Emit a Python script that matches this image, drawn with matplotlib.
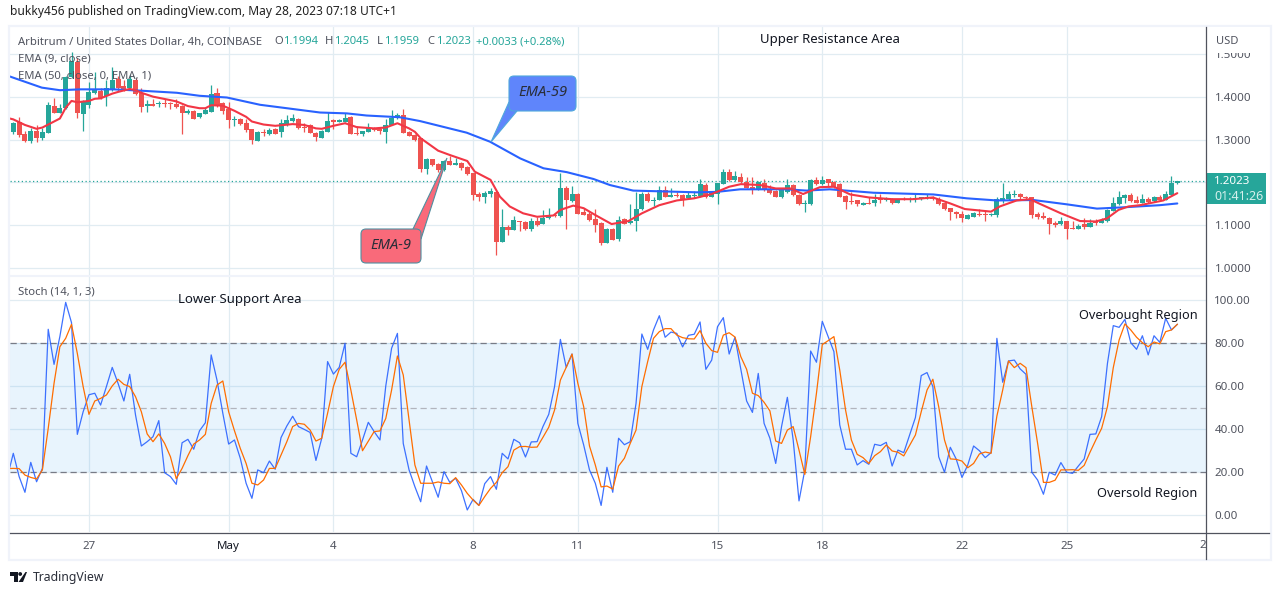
import numpy as np
import matplotlib
matplotlib.use("Agg")
import matplotlib.pyplot as plt
from matplotlib.patches import FancyBboxPatch, Polygon, Rectangle, Circle

# ---------- data ----------
opens = [1.318,1.342,1.312,1.297,1.321,1.303,1.316,1.378,1.363,1.373,
 1.445,1.480,1.360,1.381,1.408,1.414,1.401,1.415,1.440,1.425,
 1.419,1.439,1.409,1.378,1.383,1.382,1.385,1.384,1.383,1.378,
 1.363,1.367,1.352,1.360,1.364,1.408,1.385,1.371,1.346,1.349,
 1.338,1.325,1.297,1.318,1.312,1.324,1.318,1.334,1.344,1.349,
 1.330,1.334,1.316,1.304,1.318,1.344,1.342,1.342,1.353,1.315,
 1.314,1.318,1.327,1.324,1.318,1.335,1.351,1.357,1.318,1.310,
 1.303,1.231,1.255,1.242,1.228,1.249,1.241,1.245,1.235,1.221,
 1.173,1.165,1.174,1.177,1.062,1.095,1.089,1.109,1.107,1.091,
 1.109,1.103,1.116,1.123,1.122,1.186,1.157,1.173,1.131,1.126,
 1.115,1.105,1.060,1.091,1.068,1.114,1.105,1.109,1.137,1.173,
 1.156,1.158,1.182,1.167,1.171,1.171,1.163,1.168,1.168,1.194,
 1.167,1.172,1.197,1.224,1.206,1.213,1.202,1.189,1.184,1.198,
 1.185,1.181,1.165,1.178,1.193,1.171,1.150,1.150,1.205,1.196,
 1.207,1.201,1.196,1.168,1.157,1.158,1.148,1.152,1.152,1.162,
 1.158,1.161,1.153,1.161,1.158,1.161,1.162,1.164,1.166,1.162,
 1.152,1.140,1.131,1.126,1.115,1.120,1.126,1.126,1.123,1.124,
 1.159,1.161,1.171,1.172,1.167,1.165,1.127,1.122,1.117,1.105,
 1.102,1.109,1.093,1.091,1.102,1.096,1.109,1.105,1.109,1.134,
 1.149,1.164,1.170,1.158,1.152,1.161,1.157,1.167,1.160,1.171,
 1.1994]
highs = [1.342,1.352,1.320,1.326,1.334,1.326,1.387,1.398,1.383,1.447,
 1.503,1.489,1.392,1.435,1.458,1.419,1.439,1.468,1.447,1.439,
 1.450,1.443,1.419,1.392,1.395,1.390,1.395,1.388,1.395,1.381,
 1.371,1.368,1.363,1.373,1.426,1.419,1.387,1.387,1.356,1.351,
 1.349,1.325,1.320,1.325,1.326,1.326,1.348,1.357,1.360,1.351,
 1.338,1.336,1.317,1.322,1.365,1.348,1.349,1.363,1.356,1.332,
 1.321,1.338,1.330,1.328,1.349,1.369,1.363,1.371,1.320,1.314,
 1.304,1.256,1.255,1.245,1.252,1.262,1.256,1.248,1.238,1.223,
 1.178,1.180,1.186,1.178,1.138,1.101,1.122,1.110,1.109,1.116,
 1.120,1.136,1.140,1.128,1.221,1.192,1.192,1.175,1.140,1.130,
 1.137,1.107,1.093,1.093,1.122,1.116,1.150,1.178,1.178,1.178,
 1.165,1.192,1.192,1.187,1.178,1.172,1.178,1.181,1.207,1.198,
 1.178,1.199,1.231,1.231,1.227,1.223,1.213,1.212,1.204,1.207,
 1.194,1.182,1.186,1.207,1.196,1.173,1.159,1.207,1.212,1.215,
 1.209,1.203,1.199,1.171,1.178,1.160,1.154,1.165,1.172,1.173,
 1.166,1.163,1.161,1.165,1.165,1.172,1.166,1.174,1.168,1.165,
 1.155,1.141,1.133,1.133,1.126,1.132,1.138,1.136,1.129,1.165,
 1.199,1.181,1.182,1.175,1.169,1.167,1.130,1.130,1.120,1.109,
 1.119,1.111,1.109,1.103,1.116,1.114,1.114,1.118,1.138,1.165,
 1.180,1.173,1.176,1.168,1.172,1.165,1.169,1.171,1.180,1.215,
 1.2045]
lows = [1.314,1.307,1.295,1.293,1.295,1.299,1.316,1.361,1.361,1.371,
 1.443,1.351,1.320,1.373,1.406,1.395,1.378,1.414,1.414,1.412,
 1.419,1.404,1.365,1.365,1.378,1.375,1.375,1.371,1.374,1.312,
 1.359,1.348,1.350,1.359,1.364,1.376,1.359,1.328,1.332,1.335,
 1.317,1.290,1.297,1.309,1.311,1.312,1.307,1.332,1.342,1.325,
 1.318,1.315,1.297,1.304,1.318,1.325,1.340,1.340,1.312,1.311,
 1.309,1.317,1.320,1.314,1.292,1.334,1.348,1.316,1.308,1.297,
 1.225,1.220,1.238,1.225,1.227,1.240,1.240,1.229,1.217,1.158,
 1.156,1.151,1.167,1.031,1.062,1.077,1.089,1.086,1.089,1.087,
 1.099,1.102,1.115,1.120,1.120,1.091,1.155,1.126,1.124,1.109,
 1.084,1.054,1.059,1.066,1.064,1.102,1.103,1.087,1.136,1.155,
 1.145,1.158,1.165,1.165,1.165,1.145,1.162,1.164,1.167,1.164,
 1.165,1.150,1.196,1.204,1.204,1.199,1.186,1.173,1.182,1.181,
 1.174,1.165,1.164,1.176,1.169,1.147,1.131,1.148,1.195,1.195,
 1.192,1.188,1.165,1.139,1.149,1.144,1.147,1.149,1.146,1.153,
 1.157,1.150,1.151,1.158,1.155,1.155,1.159,1.161,1.158,1.148,
 1.135,1.112,1.116,1.108,1.114,1.119,1.121,1.111,1.121,1.120,
 1.153,1.160,1.165,1.160,1.161,1.118,1.115,1.115,1.080,1.095,
 1.101,1.068,1.091,1.091,1.091,1.095,1.101,1.105,1.107,1.133,
 1.147,1.151,1.155,1.151,1.151,1.151,1.155,1.157,1.159,1.169,
 1.1959]
closes = [1.338,1.311,1.297,1.321,1.304,1.318,1.381,1.363,1.373,1.445,
 1.482,1.363,1.390,1.411,1.415,1.398,1.419,1.439,1.419,1.414,
 1.440,1.405,1.377,1.383,1.379,1.386,1.383,1.382,1.376,1.363,
 1.367,1.348,1.362,1.369,1.406,1.378,1.367,1.346,1.348,1.336,
 1.322,1.299,1.318,1.316,1.323,1.314,1.338,1.346,1.350,1.328,
 1.326,1.315,1.307,1.320,1.343,1.342,1.346,1.351,1.314,1.314,
 1.319,1.326,1.323,1.320,1.335,1.351,1.357,1.316,1.309,1.299,
 1.231,1.255,1.241,1.228,1.250,1.241,1.245,1.234,1.220,1.171,
 1.165,1.175,1.179,1.062,1.095,1.089,1.112,1.107,1.091,1.109,
 1.101,1.118,1.123,1.122,1.187,1.159,1.173,1.127,1.125,1.112,
 1.101,1.060,1.091,1.067,1.112,1.102,1.109,1.138,1.173,1.156,
 1.159,1.182,1.165,1.170,1.169,1.159,1.171,1.171,1.196,1.165,
 1.175,1.198,1.224,1.206,1.215,1.201,1.188,1.182,1.201,1.182,
 1.175,1.166,1.182,1.193,1.171,1.150,1.151,1.206,1.196,1.205,
 1.199,1.189,1.167,1.155,1.155,1.150,1.152,1.150,1.159,1.158,
 1.163,1.153,1.158,1.159,1.161,1.164,1.165,1.166,1.161,1.150,
 1.137,1.130,1.126,1.117,1.123,1.129,1.124,1.123,1.127,1.161,
 1.164,1.173,1.174,1.166,1.164,1.124,1.119,1.118,1.103,1.101,
 1.109,1.091,1.091,1.098,1.095,1.105,1.105,1.113,1.136,1.151,
 1.166,1.170,1.157,1.152,1.161,1.154,1.166,1.159,1.172,1.199,
 1.2023]

ema9_x = [-0.6,0,2,4,5,7,8,9,10,11,13,14,15,17,18,20,21,22,24,28,30,32,33,34,36,38,40,41,43,45,48,50,52,53,55,57,59,62,64,66,68,69,70,73,75,78,79.3,82,83.6,85.3,87.6,90,92.8,94,96.2,98,100,102.8,105.7,108,111,114,117,120,123,125,128.3,131,133.5,135.7,138.6,141,143.8,147,151,154.6,158,161,163.5,168,169.5,172.4,174.7,176.4,180,183.3,186,187.9,189.9,191.6,193.6,197.6,200]
ema9_y = [1.349,1.347,1.334,1.325,1.328,1.342,1.349,1.374,1.390,1.387,1.390,1.395,1.396,1.407,1.411,1.418,1.415,1.409,1.400,1.389,1.378,1.373,1.373,1.380,1.379,1.367,1.353,1.342,1.335,1.332,1.336,1.334,1.326,1.325,1.332,1.338,1.329,1.326,1.328,1.338,1.326,1.318,1.303,1.274,1.264,1.250,1.225,1.206,1.167,1.144,1.128,1.120,1.123,1.136,1.146,1.140,1.124,1.103,1.110,1.128,1.147,1.158,1.163,1.173,1.190,1.196,1.194,1.186,1.186,1.173,1.189,1.190,1.172,1.165,1.161,1.161,1.165,1.151,1.138,1.132,1.144,1.158,1.161,1.150,1.128,1.110,1.109,1.116,1.136,1.144,1.147,1.158,1.175]
ema50_x = [-0.6,4.9,8,11.5,17.2,21.8,28.1,32,36.7,42.4,47,52.7,57.3,60.7,66.4,69.9,77.9,81.9,87.1,91.1,95.1,99.7,102.5,106.5,117.4,120.9,124.9,132.9,136.3,140.3,147.8,158.1,163.8,169,175.3,181,186.2,190.7,197,200]
ema50_y = [1.447,1.421,1.415,1.417,1.417,1.414,1.409,1.402,1.398,1.381,1.373,1.363,1.361,1.356,1.352,1.343,1.316,1.295,1.256,1.233,1.224,1.208,1.194,1.181,1.177,1.178,1.184,1.184,1.181,1.184,1.176,1.172,1.163,1.158,1.159,1.149,1.139,1.142,1.147,1.151]

stoch_k = [18.0,28.8,18.0,10.7,24.6,15.6,21.8,86.4,70.1,83.0,98.9,89.5,37.6,48.1,56.0,56.7,51.2,59.8,68.7,61.3,53.1,65.5,46.6,32.2,34.2,36.5,44.0,19.8,18.0,14.4,33.7,35.3,30.7,39.3,43.0,74.5,62.8,47.4,33.1,35.0,26.5,14.9,7.9,21.1,19.8,25.2,21.4,36.1,41.5,46.0,41.2,39.9,38.5,25.5,35.8,71.4,65.6,68.7,79.9,28.8,27.2,35.0,43.2,38.9,35.0,60.1,77.6,84.5,33.4,21.1,13.3,6.3,22.9,15.6,8.4,20.3,15.3,17.2,11.5,2.5,7.4,4.6,14.7,18.0,12.1,28.8,26.2,35.3,33.7,27.1,34.1,34.2,41.2,46.9,59.8,81.7,68.7,74.9,42.7,32.7,21.1,14.9,4.6,22.3,10.7,35.8,32.8,34.2,52.0,84.2,77.1,86.1,92.7,82.7,85.1,84.5,78.2,83.6,84.1,89.8,67.8,72.1,87.6,91.8,74.9,82.7,67.8,53.1,47.8,65.9,42.7,35.8,24.1,41.2,54.8,35.0,6.7,21.1,76.3,71.1,90.1,83.0,76.0,42.0,30.7,30.7,23.4,25.4,23.7,33.0,32.4,33.9,22.9,30.3,29.1,37.3,45.4,64.9,66.3,59.8,27.2,20.0,31.6,26.2,17.6,23.4,32.2,30.0,26.8,29.1,82.2,61.8,71.7,72.1,68.0,65.5,20.0,16.4,9.8,20.0,18.7,24.5,20.0,19.5,22.9,26.2,37.6,37.8,45.8,70.6,88.1,87.3,91.0,80.2,77.1,83.4,74.5,83.4,80.3,91.5,86.1,88.7]
stoch_d = [21.7,21.8,21.7,18.7,17.6,16.9,21.1,40.4,61.3,78.3,82.2,88.7,75.2,59.8,46.9,53.1,54.3,55.9,60.1,63.2,60.8,59.8,55.1,48.1,37.8,34.2,37.8,33.4,27.2,17.0,21.8,27.7,33.1,35.0,37.6,52.0,60.5,62.4,48.1,39.3,31.1,24.1,14.9,14.1,16.4,21.8,21.8,28.0,34.2,41.2,42.7,42.3,39.6,34.5,35.8,47.4,59.8,67.8,71.1,58.2,44.3,30.0,34.5,38.9,39.2,45.0,58.2,74.0,65.2,44.3,23.4,14.9,14.9,14.9,15.5,14.9,14.7,17.5,14.1,10.2,7.1,4.6,8.7,12.5,15.3,19.8,22.6,30.3,31.9,32.0,31.6,31.7,36.2,40.9,48.9,62.8,68.7,74.9,61.3,50.5,32.2,23.4,13.2,13.6,12.2,22.9,26.5,33.4,39.6,59.8,71.4,82.2,85.3,86.7,86.7,83.7,82.5,82.0,81.9,85.8,79.9,76.5,75.7,83.7,84.8,82.8,73.7,67.8,56.7,55.6,52.5,48.5,34.5,33.4,39.6,41.2,30.3,19.0,36.5,56.7,79.3,81.1,83.0,67.5,48.9,35.0,28.3,26.8,24.1,27.7,29.6,32.7,29.9,29.3,27.6,32.4,37.3,48.1,58.2,63.2,50.5,35.0,26.2,26.0,25.2,22.1,24.1,28.5,29.4,28.8,46.1,58.2,71.7,68.6,70.6,68.6,50.5,33.4,15.3,15.3,16.3,21.1,21.1,21.2,20.9,23.2,29.3,35.0,40.4,50.5,68.6,81.4,88.9,86.1,82.7,80.2,78.3,80.5,79.6,85.3,86.1,88.7]

time_tick_bars = [13,37,55,79,97,121,139,163,181]
time_tick_labels = ["27","May","4","8","11","15","18","22","25"]
clipped_tick_label = "2"
price_ticks = [1.0,1.1,1.2,1.3,1.4,1.5]
hidden_price_label = 1.2  # covered by the last-price tag in the picture
stoch_ticks = [0,20,40,60,80,100]
last_price = 1.2023

# ---------- style ----------
W, H = 1280, 595
UI = ["Noto Sans", "DejaVu Sans"]
plt.rcParams["font.family"] = UI
UP, DOWN = "#26a69a", "#ef5350"
GRID = "#e1ecf2"
TXT = "#50535e"

fig = plt.figure(figsize=(W/100, H/100), dpi=100, facecolor="white")

def rect(l, t, r, b):
    return [l/W, 1-b/H, (r-l)/W, (b-t)/H]

ax_p = fig.add_axes(rect(10, 27, 1206, 275))
ax_s = fig.add_axes(rect(10, 277, 1206, 532), sharex=ax_p)
XL = ((10-13.3)/5.82, (1206-13.3)/5.82)
ax_p.set_xlim(*XL)
ax_p.set_ylim(1.567-0.002331*(275-25), 1.567-0.002331*(27-25))
ax_s.set_ylim((706-(532-280)*3)/6.46, (706-(277-280)*3)/6.46)

for ax in (ax_p, ax_s):
    for s in ax.spines.values():
        s.set_visible(False)
    ax.set_facecolor("white")
    ax.set_axisbelow(True)
    ax.grid(True, color=GRID, lw=0.9)
    ax.yaxis.tick_right()
    ax.tick_params(length=0, labelcolor=TXT, labelsize=8.3)

# candles
idx = np.arange(len(opens))
o, h, l, c = map(np.array, (opens, highs, lows, closes))
cols = np.where(c >= o, UP, DOWN)
ax_p.vlines(idx, l, h, colors=cols, lw=0.9, zorder=2)
bh = np.maximum(np.abs(c-o), 0.0024)
ax_p.bar(idx, bh, bottom=np.minimum(o, c), width=0.86, color=cols, lw=0, zorder=3)
ax_p.axhline(last_price, color=UP, lw=0.9, ls=(0, (1, 2)), zorder=2)
ax_p.plot(ema50_x, ema50_y, color="#2962ff", lw=1.5, zorder=4, solid_capstyle="round")
ax_p.plot(ema9_x, ema9_y, color="#f23645", lw=1.5, zorder=5, solid_capstyle="round")

ax_p.set_yticks(price_ticks)
ax_p.set_yticklabels(["" if v == hidden_price_label else f"{v:.4f}" for v in price_ticks])
ax_p.tick_params(axis="y", pad=6.5)
ax_p.tick_params(axis="x", labelbottom=False)

# stochastic
ax_s.axhspan(20, 80, color="#2196f3", alpha=0.1, lw=0, zorder=1)
for lvl, col in ((80, "#787b86"), (20, "#787b86"), (50, "#b2b5be")):
    ax_s.axhline(lvl, color=col, lw=0.9, ls=(0, (5, 3)), zorder=2)
si = np.arange(-1, -1+len(stoch_k))
sd = np.arange(-1, -1+len(stoch_d))
ax_s.plot(si, stoch_k, color="#2962ff", lw=0.9, alpha=0.9, zorder=3)
ax_s.plot(sd, stoch_d, color="#ff6d00", lw=0.9, zorder=4)
ax_s.set_yticks(stoch_ticks)
ax_s.set_yticklabels([f"{v:.2f}" for v in stoch_ticks])
ax_s.tick_params(axis="y", pad=6)
ax_s.set_xticks(time_tick_bars)
ax_s.set_xticklabels(time_tick_labels)
ax_s.tick_params(axis="x", pad=6.3)
ax_s.get_xticklabels()[1].set_color("#131722")
ax_s.set_xlim(*XL)

# ---------- overlay in pixels for furniture and annotations ----------
ov = fig.add_axes([0, 0, 1, 1], zorder=10)
ov.set_xlim(0, W); ov.set_ylim(H, 0); ov.axis("off"); ov.patch.set_alpha(0)
FR = "#f0f3fa"
ov.add_patch(Rectangle((9, 26), 1262, 534, fill=False, ec=FR, lw=1.6))
ov.plot([10, 1206], [276, 276], color=FR, lw=1.5)
ov.add_patch(Rectangle((1207, 27), 62, 25.5, fc="white", ec="none"))
ov.plot([1206, 1206], [27, 559], color=TXT, lw=0.9)
ov.plot([10, 1269], [532.5, 532.5], color=TXT, lw=0.9)

def T(x, y, s, **kw):
    kw.setdefault("fontsize", 8.1)
    kw.setdefault("color", TXT)
    kw.setdefault("va", "center")
    return ov.text(x, y, s, **kw)

T(10, 11, "bukky456 published on TradingView.com, May 28, 2023 07:18 UTC+1", color="#222222", fontsize=8.65)
T(18, 42, "Arbitrum / United States Dollar, 4h, COINBASE")
for x, lab, val in ((274, "O", "1.1994"), (325, "H", "1.2045"), (377, "L", "1.1959"), (427, "C", "1.2023")):
    T(x, 42, lab)
    T(x + (9.5 if lab != "L" else 7), 42, val, color=UP)
T(476, 42, "+0.0033 (+0.28%)", color=UP)
T(18, 59, "EMA (9, close)")
T(18, 76, "EMA (50, close, 0, EMA, 1)")
T(18, 292, "Stoch (14, 1, 3)")
T(1216, 41, "USD", color=TXT, fontsize=8.0)
T(1206.5, 546, clipped_tick_label, color=TXT, ha="right", fontsize=8.3)

# price label
ov.add_patch(Rectangle((1206, 173), 60, 31, fc=UP, ec="none"))
T(1214, 182, "1.2023", color="white", ha="left", fontweight="bold", fontsize=8.3)
T(1214, 196, "01:41:26", color="#d5f0ec", ha="left", fontsize=9.0)

# annotations
ANN = "#131722"
T(830, 39, "Upper Resistance Area", color=ANN, ha="center", fontsize=9.5)
T(239.5, 299, "Lower Support Area", color=ANN, ha="center", fontsize=9.5)
T(1198, 316, "Overbought Region", color=ANN, ha="right", fontsize=9.2)
T(1197, 494, "Oversold Region", color=ANN, ha="right", fontsize=9.25)

# callouts
ov.add_patch(Polygon([(509, 102), (517, 111), (491, 142)], closed=True, fc="#5f85fb", ec="#4fa8dc", lw=0.8))
ov.add_patch(FancyBboxPatch((513, 80), 59, 27, boxstyle="round,pad=4,rounding_size=5",
                            fc="#5f85fb", ec="#4fa8dc", lw=0.8))
ov.add_patch(Polygon([(510, 100), (513, 110), (519, 110)], closed=True, fc="#5f85fb", ec="none"))
T(542.5, 92.5, "EMA-59", color="#2a2e39", ha="center", style="italic", fontsize=10.6)

ov.add_patch(Polygon([(413, 229), (421, 239), (447, 158)], closed=True, fc="#f96a7a", ec="#4f8fa0", lw=0.8))
ov.add_patch(FancyBboxPatch((365, 233), 52, 26, boxstyle="round,pad=4,rounding_size=5",
                            fc="#f96a7a", ec="#4f8fa0", lw=0.8))
ov.add_patch(Polygon([(413, 230), (420, 231), (420, 238)], closed=True, fc="#f96a7a", ec="none"))
T(391, 245.5, "EMA-9", color="#2a2e39", ha="center", style="italic", fontsize=10.6)

# footer logo and name
ov.add_patch(Polygon([(10, 572), (18, 572), (18, 582), (14, 582), (14, 576), (10, 576)], closed=True, fc="#131722", ec="none"))
ov.add_patch(Circle((20.2, 574), 1.9, fc="#131722", ec="none"))
ov.add_patch(Polygon([(25.5, 572), (27, 572), (23, 582), (18.5, 582)], closed=True, fc="#131722", ec="none"))
T(33, 577, "TradingView", color="#2a2e39", fontsize=8.8)

fig.savefig("out.png", dpi=100, facecolor="white")
